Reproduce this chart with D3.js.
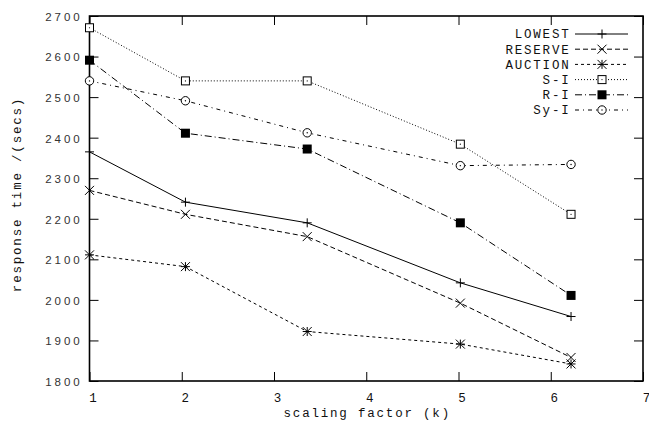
<!DOCTYPE html>
<html>
<head>
<meta charset="utf-8">
<script src="https://cdn.jsdelivr.net/npm/d3@7"></script>
<style>
  body { margin: 0; background: #fff; }
</style>
</head>
<body>
<div id="chart"></div>
<script>
// scaling factor (k) at each measurement
var scaleK = [1, 2.04, 3.36, 5.02, 6.22];
// response times, secs
var lowest  = [2365, 2241, 2190, 2042, 1959];
var reserve = [2270, 2211, 2156, 1992, 1858];
var auction = [2111, 2082, 1922, 1891, 1842];
var sI      = [2671, 2540, 2540, 2384, 2211];
var rI      = [2591, 2411, 2372, 2190, 2011];
var syI     = [2540, 2491, 2412, 2331, 2334];

var seriesNames = ["LOWEST", "RESERVE", "AUCTION", "S-I", "R-I", "Sy-I"];
var xTicks = [1, 2, 3, 4, 5, 6, 7];
var yTicks = [1800, 1900, 2000, 2100, 2200, 2300, 2400, 2500, 2600, 2700];

var MONO = "'Liberation Mono', Cousine, 'Courier New', Courier, monospace";
var SANS = "'Liberation Sans', Arimo, Arial, Helvetica, sans-serif";

var W = 649, H = 429;
var margin = {top: 16, right: 6, bottom: 48, left: 89.5};
var width = W - margin.left - margin.right,
    height = H - margin.top - margin.bottom;

var svg = d3.select("#chart").append("svg")
    .attr("width", W).attr("height", H)
  .append("g")
    .attr("transform", "translate(" + margin.left + "," + margin.top + ")");

var x = d3.scaleLinear().domain([1, 7]).range([0, width]);
var y = d3.scaleLinear().domain([1800, 2700]).range([height, 0]);

function mono(sel) {
  return sel.style("font-family", MONO).style("font-size", "12.5px")
    .style("letter-spacing", "1.8px").style("font-weight", "normal").attr("fill", "#111");
}

// line style + point type per series (gnuplot look)
var styles = [
  {dash: null,          pt: "plus"},
  {dash: "5,3",         pt: "cross"},
  {dash: "3,3",         pt: "star"},
  {dash: "1,2",         pt: "box"},
  {dash: "7,3,1,3",     pt: "fbox"},
  {dash: "4,4,1,4",     pt: "circle"}
];
var allValues = [lowest, reserve, auction, sI, rI, syI];

function marker(g, type, cx, cy) {
  var s = 4.5;
  if (type == "plus") {
    g.append("path").attr("d", "M" + (cx - s) + "," + cy + "H" + (cx + s) + "M" + cx + "," + (cy - s) + "V" + (cy + s))
      .attr("stroke", "#000").attr("fill", "none");
  } else if (type == "cross") {
    g.append("path").attr("d", "M" + (cx - s) + "," + (cy - s) + "L" + (cx + s) + "," + (cy + s) + "M" + (cx - s) + "," + (cy + s) + "L" + (cx + s) + "," + (cy - s))
      .attr("stroke", "#000").attr("fill", "none");
  } else if (type == "star") {
    g.append("path").attr("d", "M" + (cx - s) + "," + (cy - s) + "L" + (cx + s) + "," + (cy + s) + "M" + (cx - s) + "," + (cy + s) + "L" + (cx + s) + "," + (cy - s) +
        "M" + (cx - s) + "," + cy + "H" + (cx + s) + "M" + cx + "," + (cy - s) + "V" + (cy + s))
      .attr("stroke", "#000").attr("fill", "none");
  } else if (type == "box") {
    g.append("rect").attr("x", cx - 4).attr("y", cy - 4).attr("width", 8).attr("height", 8)
      .attr("stroke", "#000").attr("fill", "#fff");
    g.append("circle").attr("cx", cx).attr("cy", cy).attr("r", 0.6).attr("fill", "#000");
  } else if (type == "fbox") {
    g.append("rect").attr("x", cx - 4.5).attr("y", cy - 4.5).attr("width", 9).attr("height", 9)
      .attr("fill", "#000");
  } else if (type == "circle") {
    g.append("circle").attr("cx", cx).attr("cy", cy).attr("r", 4.2)
      .attr("stroke", "#000").attr("fill", "#fff");
    g.append("circle").attr("cx", cx).attr("cy", cy).attr("r", 0.7).attr("fill", "#000");
  }
}

// axes, gnuplot style: ticks point inwards and are mirrored
var xAxis = svg.append("g")
    .attr("transform", "translate(0," + height + ")")
    .call(d3.axisBottom(x).tickValues(xTicks).tickFormat(d3.format("d")).tickSizeInner(-9).tickSizeOuter(0).tickPadding(12));
xAxis.selectAll("text").attr("dx", 4).call(mono);
svg.append("g")
    .call(d3.axisTop(x).tickValues(xTicks).tickSizeInner(-9).tickSizeOuter(0).tickFormat(""));

var yAxis = svg.append("g")
    .call(d3.axisLeft(y).tickValues(yTicks).tickFormat(d3.format("d")).tickSizeInner(-9).tickSizeOuter(0).tickPadding(7));
yAxis.selectAll("text").attr("dy", "0.38em")
    .style("font-family", SANS).style("font-size", "11.5px").style("letter-spacing", "2.9px")
    .attr("fill", "#333");
svg.append("g")
    .attr("transform", "translate(" + width + ",0)")
    .call(d3.axisRight(y).tickValues(yTicks).tickSizeInner(-9).tickSizeOuter(0).tickFormat(""));

svg.selectAll(".domain").remove();
svg.selectAll(".tick line").attr("stroke", "#000");

svg.append("rect")
    .attr("x", 0).attr("y", 0).attr("width", width).attr("height", height)
    .attr("fill", "none").attr("stroke", "#000").attr("stroke-width", 1.6);

// axis labels
svg.append("text")
    .attr("text-anchor", "middle")
    .attr("x", width / 2 + 1)
    .attr("y", height + 36)
    .text("scaling factor (k)")
    .call(mono);

svg.append("text")
    .attr("text-anchor", "middle")
    .attr("transform", "rotate(-90)")
    .attr("x", -(height / 2) + 4)
    .attr("y", -margin.left + 21)
    .text("response time /(secs)")
    .call(mono);

// series
var line = d3.line()
    .x(function(d) { return x(d.k); })
    .y(function(d) { return y(d.v); });

allValues.forEach(function(vals, i) {
  var pts = vals.map(function(v, j) { return {k: scaleK[j], v: v}; });
  svg.append("path")
    .datum(pts)
    .attr("fill", "none")
    .attr("stroke", "#000")
    .attr("stroke-width", 1)
    .attr("stroke-dasharray", styles[i].dash)
    .attr("d", line);
  var mg = svg.append("g");
  pts.forEach(function(p) { marker(mg, styles[i].pt, x(p.k), y(p.v)); });
});

// legend
var legend = svg.append("g").attr("transform", "translate(" + (width - 71) + ",18)");
seriesNames.forEach(function(name, i) {
  var ly = i * 15.2;
  legend.append("text")
    .attr("text-anchor", "end")
    .attr("x", -1.5)
    .attr("y", ly)
    .attr("dy", "0.35em")
    .text(name)
    .call(mono);
  legend.append("line")
    .attr("x1", 3).attr("x2", 56)
    .attr("y1", ly).attr("y2", ly)
    .attr("stroke", "#000")
    .attr("stroke-dasharray", styles[i].dash);
  marker(legend, styles[i].pt, 30, ly);
});
</script>
</body>
</html>
